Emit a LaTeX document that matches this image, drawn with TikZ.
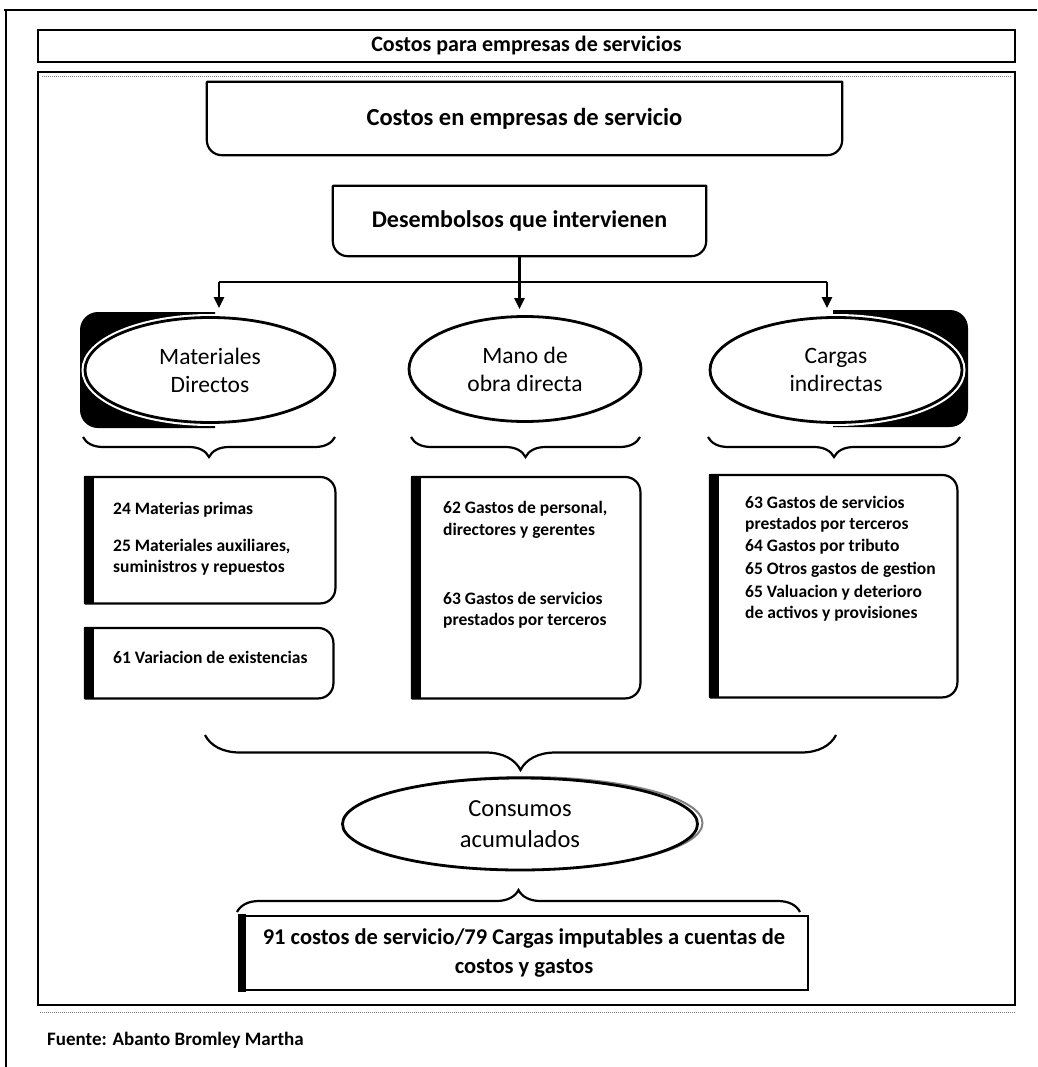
\documentclass[tikz,border=0pt]{standalone}
\usepackage{fontspec}
\setmainfont{Carlito}
\usetikzlibrary{shapes.geometric,arrows.meta,decorations.pathreplacing}
\newcommand{\ellfont}{\fontsize{23.5}{28}\selectfont}
\newcommand{\itemfont}{\fontsize{17.5}{21.5}\selectfont\bfseries}
\newcommand{\rightroundbox}[1]{%
  \draw[boxline] (#1.north west) -- ([xshift=-15pt]#1.north east) arc[start angle=270,end angle=360,radius=15]
     -- ([yshift=15pt]#1.south east) arc[start angle=0,end angle=90,radius=15] -- (#1.south west) -- cycle;
  \fill ([xshift=-1pt,yshift=1pt]#1.north west) rectangle ([xshift=9pt,yshift=-1pt]#1.south west);}
\newcommand{\bottomroundbox}[1]{%
  \draw[boxline] (#1.north west) -- (#1.north east) -- ([yshift=15pt]#1.south east) arc[start angle=0,end angle=90,radius=15]
     -- ([xshift=15pt]#1.south west) arc[start angle=90,end angle=180,radius=15] -- cycle;}
\tikzset{
  frame/.style={draw, line width=2pt, inner sep=0pt},
  boxline/.style={line width=2.2pt, line join=round},
  ell/.style={ellipse, draw, line width=2.8pt, fill=white, inner sep=0pt, align=center, font=\ellfont},
  whitering/.style={preaction={draw=white, line width=7pt}},
  conn/.style={line width=2.4pt},
  arr/.style={line width=2.4pt, -{Triangle[length=11pt,width=10pt]}},
  brc/.style={decorate, line width=2.2pt, decoration={brace, amplitude=#1}},
  itemtxt/.style={anchor=west, align=left, inner sep=0pt, font=\itemfont},
  boxnode/.style={inner sep=0pt, anchor=north west},
}
\begin{document}
\begin{tikzpicture}[x=1pt,y=-1pt]
\useasboundingbox (0,0) rectangle (1037,1067);
\fill[white] (0,0) rectangle (1037,1067);
% scan frame lines
\draw[line width=1.5pt] (4,10) -- (1037,10);
\draw[line width=1.5pt] (6,10) -- (6,1067);
% frames
\node[frame, minimum width=977pt, minimum height=933pt] (frm) at (526.5,538.5) {};
\draw[gray, densely dotted, line width=1pt] (42,77) -- (1011,77);
\draw[gray, densely dotted, line width=1pt] (40,1012) -- (1015,1012);
\node[frame, minimum width=977pt, minimum height=32pt, font=\fontsize{22}{26}\selectfont\bfseries] (title) at (526.5,46) {Costos para empresas de servicios};
% top boxes
\node[inner sep=0pt, minimum width=635pt, minimum height=73pt, font=\fontsize{24.5}{28}\selectfont\bfseries] (cost) at (524.5,118.5) {Costos en empresas de servicio};
\bottomroundbox{cost}
\node[inner sep=0pt, minimum width=373pt, minimum height=70pt, font=\fontsize{24}{28}\selectfont\bfseries] (des) at (519.5,221) {Desembolsos que intervienen};
\bottomroundbox{des}
% shadows behind ellipses
\fill (215,312) -- (98,312) arc[start angle=270,end angle=180,radius=18] -- (80,410) arc[start angle=180,end angle=90,radius=18] -- (215,428) -- cycle;
\fill (833,310) -- (950,310) arc[start angle=270,end angle=360,radius=18] -- (968,409) arc[start angle=0,end angle=90,radius=18] -- (833,427) -- cycle;
% ellipses
\node[ell, whitering, minimum width=250pt, minimum height=105pt] (md) at (210,370) {Materiales\\Directos};
\node[ell, minimum width=232pt, minimum height=105pt] (mo) at (525,369) {Mano de\\obra directa};
\node[ell, whitering, minimum width=252pt, minimum height=105pt] (ci) at (836,370) {Cargas\\indirectas};
% connectors
\coordinate (hL) at (219,282);
\coordinate (hR) at (827,282);
\coordinate (hM) at (des.south |- hL);
\draw[conn] (hL) -- (hR);
\draw[conn] (des.south) -- (hM);
\draw[arr, shorten >=8pt] (hL) -- (md.north -| hL);
\draw[arr, shorten >=6pt] (des.south) -- (des.south |- mo.north);
\draw[arr, shorten >=8pt] (hR) -- (ci.north -| hR);
% small braces
\coordinate (b1a) at (83,437);  \coordinate (b1b) at (335,437);
\coordinate (b2a) at (411,437); \coordinate (b2b) at (640,437);
\coordinate (b3a) at (708,437); \coordinate (b3b) at (960,437);
\draw[brc=20pt, decoration={mirror}] (b1a) -- (b1b);
\draw[brc=20pt, decoration={mirror}] (b2a) -- (b2b);
\draw[brc=20pt, decoration={mirror}] (b3a) -- (b3b);
% content boxes
\node[boxnode, minimum width=250pt, minimum height=126pt] (mdA) at (85,477) {};
\rightroundbox{mdA}
\node[boxnode, minimum width=248pt, minimum height=70pt] (mdB) at (85,628) {};
\rightroundbox{mdB}
\node[boxnode, minimum width=228pt, minimum height=221pt] (moA) at (412,477) {};
\rightroundbox{moA}
\node[boxnode, minimum width=247pt, minimum height=222pt] (ciA) at (710,475) {};
\rightroundbox{ciA}
\node[itemtxt] (t24) at (113,510) {24 Materias primas};
\node[itemtxt] (t25) at (113,557) {25 Materiales auxiliares,\\suministros y repuestos};
\node[itemtxt] (t61) at (113,657) {61 Variacion de existencias};
\node[itemtxt] (t62) at (443,520) {62 Gastos de personal,\\directores y gerentes};
\node[itemtxt] (t63a) at (443,610) {63 Gastos de servicios\\prestados por terceros};
\node[itemtxt] (t63b) at (745,514) {63 Gastos de servicios\\prestados por terceros};
\node[itemtxt] (t64) at (745,547) {64 Gastos por tributo};
\node[itemtxt] (t65a) at (745,570) {65 Otros gastos de gestion};
\node[itemtxt] (t65b) at (745,603) {65 Valuacion y deterioro\\de activos y provisiones};
% big brace
\coordinate (bga) at (205,735); \coordinate (bgb) at (836,735);
\draw[brc=35pt, decoration={mirror}] (bga) -- (bgb);
% consumos
\draw[gray, line width=2pt] (525,823) ellipse [x radius=177.5, y radius=46];
\node[ell, minimum width=355pt, minimum height=92pt, font=\fontsize{24.5}{31}\selectfont] (cons) at (520,824) {Consumos\\acumulados};
% bottom brace
\coordinate (bba) at (237,912); \coordinate (bbb) at (800,912);
\draw[brc=22pt] (bba) -- (bbb);
% final box
\node[frame, minimum width=568pt, minimum height=74pt, align=center, font=\fontsize{22.5}{29}\selectfont\bfseries] (fin) at (524,953) {91 costos de servicio/79 Cargas imputables a cuentas de\\costos y gastos};
\fill ([xshift=-1pt,yshift=1pt]fin.north west) rectangle ([xshift=7pt,yshift=-1pt]fin.south west);
% source
\node[anchor=west, inner sep=0pt, font=\fontsize{19}{23}\selectfont\bfseries] (src) at (47,1040) {Fuente: Abanto Bromley Martha};
\end{tikzpicture}
\end{document}
